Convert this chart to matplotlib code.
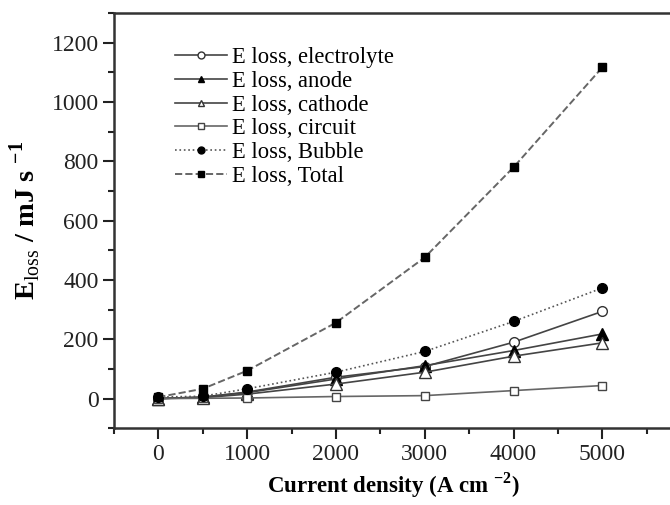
import matplotlib
matplotlib.use("Agg")
from matplotlib import pyplot as plt
from matplotlib.ticker import MultipleLocator

plt.rcParams['font.family'] = 'Liberation Serif'
plt.rcParams['mathtext.fontset'] = 'custom'
plt.rcParams['mathtext.rm'] = 'Liberation Serif'
plt.rcParams['mathtext.bf'] = 'Liberation Serif:bold'

# current density (A cm-2)
x = [0, 500, 1000, 2000, 3000, 4000, 5000]

# energy losses (mJ s-1)
e_electrolyte = [0, 5, 22, 72, 108, 190, 294]
e_anode = [0, 5, 20, 66, 111, 162, 218]
e_cathode = [0, 3, 15, 49, 89, 143, 188]
e_circuit = [0, 1, 2, 7, 10, 27, 44]
e_bubble = [5, 8, 33, 89, 159, 260, 373]
e_total = [5, 33, 94, 256, 476, 780, 1117]

labels = ['E loss, electrolyte', 'E loss, anode', 'E loss, cathode',
          'E loss, circuit', 'E loss, Bubble', 'E loss, Total']

fig = plt.figure(figsize=(6.7, 5.05), dpi=100)
ax = fig.add_axes([0.170, 0.152, 0.835, 0.822])

ms = 7
ax.plot(x, e_electrolyte, '-', color='#444444', lw=1.2, marker='o', ms=ms,
        mfc='white', mec='#333333', label=labels[0])
ax.plot(x, e_anode, '-', color='#444444', lw=1.2, marker='^', ms=ms + 1,
        mfc='black', mec='black', label=labels[1])
ax.plot(x, e_cathode, '-', color='#444444', lw=1.2, marker='^', ms=ms + 1,
        mfc='white', mec='#333333', label=labels[2])
ax.plot(x, e_circuit, '-', color='#666666', lw=1.2, marker='s', ms=ms - 1,
        mfc='white', mec='#444444', label=labels[3])
ax.plot(x, e_bubble, ':', color='#555555', lw=1.2, marker='o', ms=ms,
        mfc='black', mec='black', label=labels[4])
ax.plot(x, e_total, '--', color='#666666', lw=1.4, marker='s', ms=ms - 1,
        mfc='black', mec='black', label=labels[5])

ax.set_xlim(-500, 5800)
ax.set_ylim(-100, 1300)
ax.xaxis.set_major_locator(MultipleLocator(1000))
ax.xaxis.set_minor_locator(MultipleLocator(500))
ax.yaxis.set_major_locator(MultipleLocator(200))
ax.yaxis.set_minor_locator(MultipleLocator(100))
ax.set_yticks(range(0, 1201, 200))

for s in ['left', 'bottom', 'top']:
    ax.spines[s].set_linewidth(1.8)
    ax.spines[s].set_color('#333333')
ax.spines['right'].set_visible(False)

ax.tick_params(which='major', direction='out', length=8, width=1.5,
               labelsize=17, pad=3, colors='#222222')
ax.tick_params(which='minor', direction='out', length=4, width=1.5,
               colors='#222222')
ax.tick_params(top=False, right=False, which='both')

ax.set_xlabel(r'Current density (A cm $^{\mathbf{-2}}$)', fontsize=16.5,
              fontweight='bold', labelpad=4)
ax.set_ylabel(r'E$_{\mathrm{loss}}$ / mJ s $^{\mathbf{-1}}$', fontsize=20.5,
              fontweight='bold', labelpad=6)

leg = ax.legend(loc='upper left', bbox_to_anchor=(0.093, 0.94), frameon=False,
                fontsize=16.3, handlelength=2.3, handletextpad=0.2,
                labelspacing=0.12, borderaxespad=0)
for h in leg.legend_handles:
    h.set_markersize(5)

fig.savefig('out.png', dpi=100)
